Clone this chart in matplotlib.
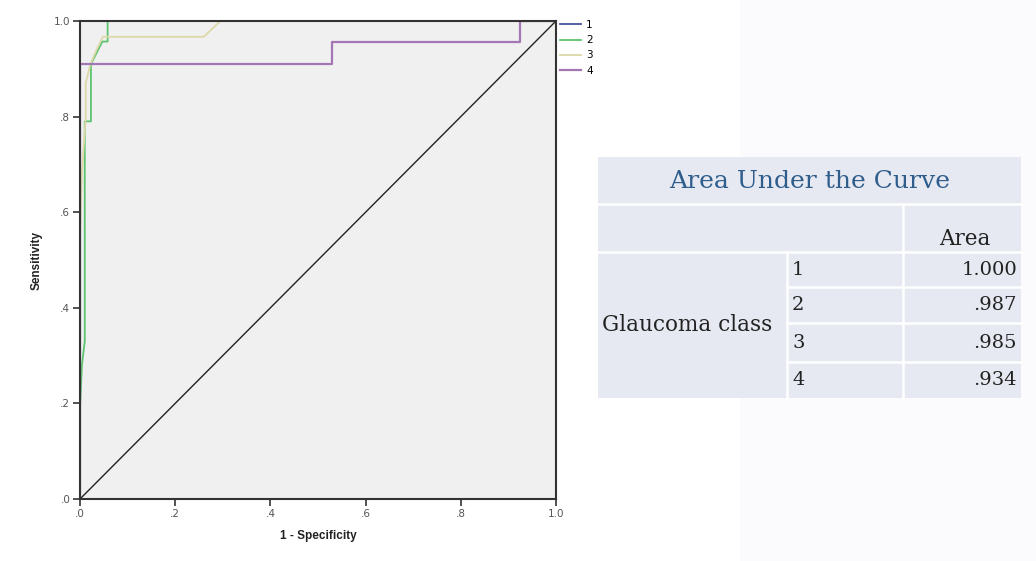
import matplotlib
matplotlib.use("Agg")
import matplotlib.pyplot as plt
from matplotlib.patches import Rectangle

# ROC curves (1 - specificity, sensitivity)
fpr_1 = [0.0, 0.0, 1.0]
tpr_1 = [0.0, 1.0, 1.0]
fpr_2 = [0.0, 0.0, 0.004, 0.010, 0.010, 0.014, 0.023, 0.023, 0.047, 0.058, 0.058, 1.0]
tpr_2 = [0.0, 0.19, 0.28, 0.33, 0.79, 0.79, 0.79, 0.91, 0.957, 0.957, 1.0, 1.0]
fpr_3 = [0.0, 0.0, 0.004, 0.012, 0.012, 0.022, 0.035, 0.048, 0.26, 0.295, 1.0]
tpr_3 = [0.0, 0.55, 0.68, 0.80, 0.87, 0.91, 0.94, 0.967, 0.967, 1.0, 1.0]
fpr_4 = [0.0, 0.0, 0.53, 0.53, 0.924, 0.924, 1.0]
tpr_4 = [0.0, 0.91, 0.91, 0.956, 0.956, 1.0, 1.0]

klase = ["1", "2", "3", "4"]
boje = ["#44559a", "#5cc46e", "#dcd8a8", "#a277b4"]
ticks = [0.0, 0.2, 0.4, 0.6, 0.8, 1.0]
tick_labels = [".0", ".2", ".4", ".6", ".8", "1.0"]

# AUC table
auc_naslov = "Area Under the Curve"
auc_stupac = "Area"
auc_grupa = "Glaucoma class"
auc_vrijednosti = ["1.000", ".987", ".985", ".934"]

W, H = 1036, 561
fig = plt.figure(figsize=(W / 100, H / 100), dpi=100)
fig.patch.set_facecolor("white")


def fx(x):
    return x / W


def fy(y):
    return 1 - y / H


# light panel on the right side of the slide
fig.patches.append(Rectangle((fx(740), 0), 1 - fx(740), 1, transform=fig.transFigure,
                             facecolor="#fbfbfd", edgecolor="none", zorder=0))

ax = fig.add_axes([fx(80), fy(499), fx(556) - fx(80), fy(21) - fy(499)])
ax.set_facecolor("#f0f0f0")

krivulje = [(fpr_1, tpr_1), (fpr_2, tpr_2), (fpr_3, tpr_3), (fpr_4, tpr_4)]
sirine = [1.3, 1.3, 1.3, 1.6]
for (x, y), k, c, lw in zip(krivulje, klase, boje, sirine):
    ax.plot(x, y, color=c, lw=lw, label=k)
ax.plot([0, 1], [0, 1], color="#222222", lw=1.0)

ax.set_xlim(0, 1)
ax.set_ylim(0, 1)
ax.set_xticks(ticks)
ax.set_xticklabels(tick_labels)
ax.set_yticks(ticks)
ax.set_yticklabels(tick_labels)
ax.tick_params(direction="out", length=5, width=1.2, color="#333333",
               labelsize=7.5, labelcolor="#555555", pad=2)
for s in ax.spines.values():
    s.set_color("#333333")
    s.set_linewidth(1.5)

ax.set_xlabel("1 - Specificity", fontsize=8.5, fontweight="bold",
              color="#222222", labelpad=8, family="Liberation Sans")
ax.set_ylabel("Sensitivity", fontsize=8.5, fontweight="bold",
              color="#222222", labelpad=8, family="Liberation Sans")

ax.legend(loc="upper left", bbox_to_anchor=(fx(560), fy(20)),
          bbox_transform=fig.transFigure, frameon=False, borderpad=0,
          borderaxespad=0, handlelength=2.0, handletextpad=0.5,
          labelspacing=0.5, fontsize=7.5)

# table
tbl_bg = "#e6e9f1"
fig.patches.append(Rectangle((fx(598), fy(398)), fx(1021) - fx(598), fy(157) - fy(398),
                             transform=fig.transFigure, facecolor=tbl_bg,
                             edgecolor="none", zorder=1))


def crta(x0, y0, x1, y1):
    fig.add_artist(plt.Line2D([fx(x0), fx(x1)], [fy(y0), fy(y1)],
                              transform=fig.transFigure, color="white", lw=1.8, zorder=2))


crta(598, 204, 1021, 204)
crta(598, 252, 1021, 252)
for y in [287, 323, 362]:
    crta(787, y, 1021, y)
crta(903, 204, 903, 398)
crta(787, 252, 787, 398)

serif = "DejaVu Serif"
fig.text(fx(810), fy(181), auc_naslov, ha="center", va="center",
         fontsize=18, color="#2f5d8c", family=serif)
fig.text(fx(965), fy(239), auc_stupac, ha="center", va="center",
         fontsize=15.5, color="#222222", family=serif)
fig.text(fx(602), fy(325), auc_grupa, ha="left", va="center",
         fontsize=15.5, color="#222222", family=serif)
redovi = [270, 305, 343, 380]
for y, k, v in zip(redovi, klase, auc_vrijednosti):
    fig.text(fx(792), fy(y), k, ha="left", va="center",
             fontsize=14, color="#222222", family=serif)
    fig.text(fx(1017), fy(y), v, ha="right", va="center",
             fontsize=14, color="#222222", family=serif)

fig.savefig("out.png", dpi=100)
